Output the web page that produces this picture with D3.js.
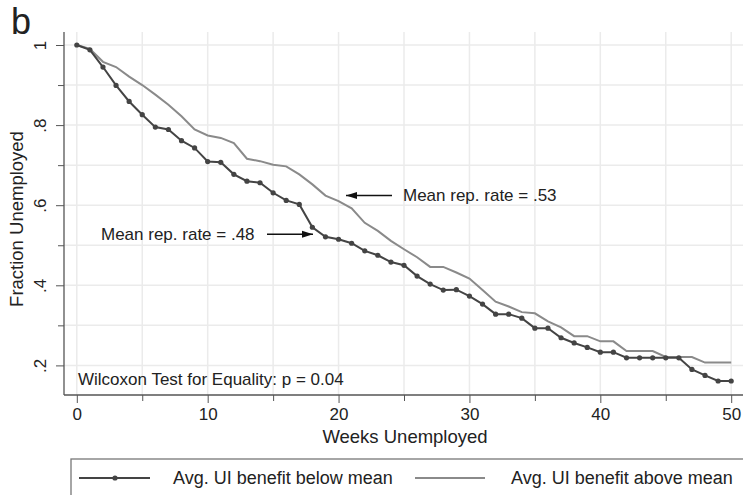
<!DOCTYPE html>
<html><head><meta charset="utf-8">
<script src="https://cdn.jsdelivr.net/npm/d3@7"></script>
<style>body{margin:0;background:#fff;} text{font-family:"Liberation Sans",Arial,Helvetica,sans-serif;fill:#222;}</style>
</head><body>
<svg id="c" width="743" height="495"></svg>
<script>
const weeks = d3.range(0, 51);
const belowMean = [1.0,0.988,0.945,0.899,0.859,0.826,0.795,0.789,0.761,0.743,0.709,0.707,0.677,0.660,0.656,0.631,0.612,0.602,0.545,0.521,0.515,0.505,0.486,0.475,0.458,0.450,0.423,0.403,0.388,0.389,0.373,0.353,0.328,0.328,0.318,0.293,0.293,0.269,0.256,0.245,0.233,0.233,0.219,0.219,0.219,0.219,0.219,0.190,0.175,0.161,0.161];
const aboveMean = [1.0,0.990,0.958,0.945,0.921,0.900,0.876,0.851,0.822,0.789,0.774,0.768,0.755,0.716,0.710,0.701,0.697,0.677,0.652,0.624,0.610,0.592,0.556,0.536,0.511,0.490,0.470,0.446,0.446,0.432,0.417,0.388,0.359,0.347,0.333,0.330,0.310,0.295,0.273,0.273,0.260,0.260,0.236,0.236,0.236,0.221,0.221,0.221,0.207,0.207,0.207];
const yTicks = [0.2,0.4,0.6,0.8,1];
const yMinor = [0.3,0.5,0.7,0.9];
const xTicks = [0,10,20,30,40,50];
const xMinor = [5,15,25,35,45];
const yLabels = [".2",".4",".6",".8","1"];
const seriesNames = ["Avg. UI benefit below mean","Avg. UI benefit above mean"];

const svg = d3.select("#c");
const x = d3.scaleLinear().domain([0,50]).range([76.8,731.2]);
const y = d3.scaleLinear().domain([0.2,1]).range([365.4,45]);
const pL = 64, pB = 395, pT = 32, pR = 743;

// grid
const grid = svg.append("g").attr("stroke","#ebebeb").attr("stroke-width",1.5);
d3.range(0,51,5).forEach(w=>grid.append("line").attr("x1",x(w)).attr("x2",x(w)).attr("y1",pT).attr("y2",pB));
d3.range(2,11).map(k=>k/10).forEach(v=>grid.append("line").attr("x1",pL).attr("x2",pR).attr("y1",y(v)).attr("y2",y(v)));

// axes
const axC = "#555";
const yAx = svg.append("g").attr("transform",`translate(${pL},0)`)
  .call(d3.axisLeft(y).tickValues(yTicks).tickSize(8).tickFormat((d,i)=>yLabels[i]));
yAx.select(".domain").remove();
yAx.selectAll("line").attr("stroke",axC);
yAx.selectAll("text").attr("transform","rotate(-90)").attr("x",0).attr("y",-23).attr("dy","0.32em")
  .attr("text-anchor","middle").style("font-size","17px").attr("fill","#222");
const yAxm = svg.append("g").attr("transform",`translate(${pL},0)`)
  .call(d3.axisLeft(y).tickValues(yMinor).tickSize(6).tickFormat(""));
yAxm.select(".domain").remove(); yAxm.selectAll("line").attr("stroke",axC);

const xAx = svg.append("g").attr("transform",`translate(0,${pB})`)
  .call(d3.axisBottom(x).tickValues(xTicks).tickSize(8).tickPadding(5).tickFormat(d3.format("d")));
xAx.select(".domain").remove();
xAx.selectAll("line").attr("stroke",axC);
xAx.selectAll("text").style("font-size","17px").attr("fill","#222");
const xAxm = svg.append("g").attr("transform",`translate(0,${pB})`)
  .call(d3.axisBottom(x).tickValues(xMinor).tickSize(6).tickFormat(""));
xAxm.select(".domain").remove(); xAxm.selectAll("line").attr("stroke",axC);

svg.append("line").attr("x1",pL).attr("x2",pL).attr("y1",pT).attr("y2",pB).attr("stroke",axC).attr("stroke-width",1.3);
svg.append("line").attr("x1",pL).attr("x2",pR).attr("y1",pB).attr("y2",pB).attr("stroke",axC).attr("stroke-width",1.3);

// series
const line = d3.line().x((d,i)=>x(weeks[i])).y(d=>y(d));
svg.append("path").datum(aboveMean).attr("d",line).attr("fill","none").attr("stroke","#8a8a8a").attr("stroke-width",2);
svg.append("path").datum(belowMean).attr("d",line).attr("fill","none").attr("stroke","#444").attr("stroke-width",2);
svg.append("g").selectAll("circle").data(belowMean).join("circle")
  .attr("cx",(d,i)=>x(weeks[i])).attr("cy",d=>y(d)).attr("r",2.6).attr("fill","#444");

// annotations
function arrow(x1,yv,x2){
  svg.append("line").attr("x1",x1).attr("x2",x2).attr("y1",yv).attr("y2",yv).attr("stroke","#111").attr("stroke-width",1.4);
  const dir = x2<x1?1:-1;
  svg.append("path").attr("d",`M${x2},${yv}L${x2+dir*11},${yv-3.5}L${x2+dir*11},${yv+3.5}Z`).attr("fill","#111");
}
svg.append("text").attr("x",403).attr("y",201).style("font-size","17px").text("Mean rep. rate = .53");
arrow(392,195.5,346);
svg.append("text").attr("x",101).attr("y",240).style("font-size","17px").text("Mean rep. rate = .48");
arrow(267,234.3,313);
svg.append("text").attr("x",78).attr("y",385).style("font-size","17px").text("Wilcoxon Test for Equality: p = 0.04");

// titles
svg.append("text").attr("x",405).attr("y",443).attr("text-anchor","middle").style("font-size","18.5px").text("Weeks Unemployed");
svg.append("text").attr("transform","translate(23,219) rotate(-90)").attr("text-anchor","middle").style("font-size","18.5px").text("Fraction Unemployed");
svg.append("text").attr("x",11).attr("y",34).style("font-size","36px").text("b");

// legend
svg.append("rect").attr("x",71).attr("y",459).attr("width",690).attr("height",60).attr("fill","none").attr("stroke","#777").attr("stroke-width",1.3);
svg.append("line").attr("x1",79).attr("x2",150).attr("y1",478).attr("y2",478).attr("stroke","#444").attr("stroke-width",2);
svg.append("circle").attr("cx",115).attr("cy",478).attr("r",2.6).attr("fill","#444");
svg.append("text").attr("x",173).attr("y",484).style("font-size","18px").text(seriesNames[0]);
svg.append("line").attr("x1",415).attr("x2",485).attr("y1",478).attr("y2",478).attr("stroke","#8a8a8a").attr("stroke-width",2);
svg.append("text").attr("x",511).attr("y",484).style("font-size","18px").text(seriesNames[1]);
</script>
</body></html>
